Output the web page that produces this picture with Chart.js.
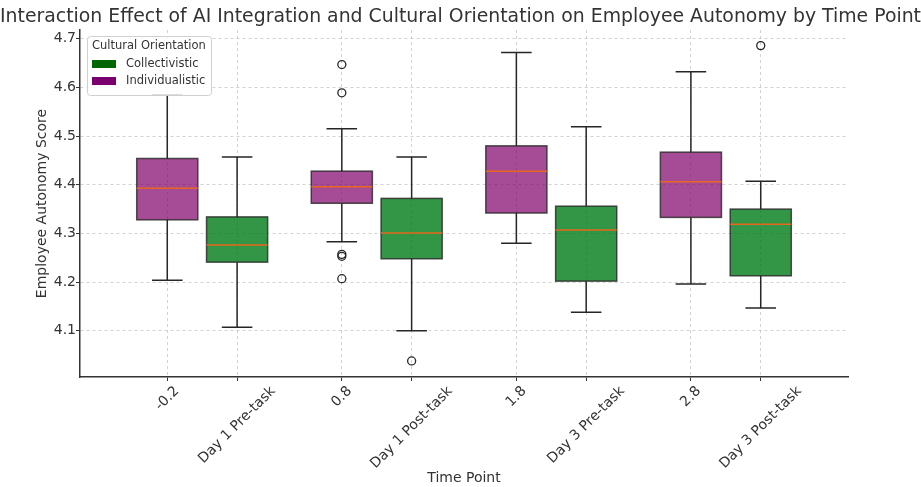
<!DOCTYPE html>
<html>
<head>
<meta charset="utf-8">
<script src="https://cdn.jsdelivr.net/npm/chart.js@4.4.1/dist/chart.umd.min.js"></script>
<style>
  html, body { margin: 0; padding: 0; background: #fff; }
  #wrap { width: 921px; height: 487px; }
</style>
</head>
<body>
<div id="wrap"><canvas id="c" width="921" height="487"></canvas></div>
<script>
// Time points shown on the x axis
const timePoints = ['Day 1 Pre-task', 'Day 1 Post-task', 'Day 3 Pre-task', 'Day 3 Post-task'];

// Individualistic box statistics per time point
const indWhiskerLow  = [4.204, 4.283, 4.280, 4.196];
const indQ1          = [4.328, 4.362, 4.342, 4.333];
const indMedian      = [4.393, 4.396, 4.428, 4.406];
const indQ3          = [4.454, 4.428, 4.480, 4.467];
const indWhiskerHigh = [4.585, 4.515, 4.672, 4.632];
const indOutliers    = [[], [4.647, 4.589, 4.257, 4.253, 4.207], [], []];

// Collectivistic box statistics per time point
const colWhiskerLow  = [4.107, 4.100, 4.138, 4.147];
const colQ1          = [4.241, 4.248, 4.202, 4.213];
const colMedian      = [4.276, 4.301, 4.307, 4.319];
const colQ3          = [4.334, 4.372, 4.356, 4.350];
const colWhiskerHigh = [4.457, 4.457, 4.519, 4.407];
const colOutliers    = [[], [4.038], [], [4.686]];

// y axis tick values
const yTickValues = [4.1, 4.2, 4.3, 4.4, 4.5, 4.6, 4.7];

const BOX_W = 0.35;
const IND_OFFSET = -0.2;
const COL_OFFSET = 0.2;
const FONT = "'DejaVu Sans', sans-serif";

const series = [
  { name: 'Individualistic', offset: IND_OFFSET, lo: indWhiskerLow, q1: indQ1, med: indMedian, q3: indQ3, hi: indWhiskerHigh,
    fill: 'rgba(128,0,106,0.70)', legend: '#7a0070' },
  { name: 'Collectivistic', offset: COL_OFFSET, lo: colWhiskerLow, q1: colQ1, med: colMedian, q3: colQ3, hi: colWhiskerHigh,
    fill: 'rgba(0,124,24,0.80)', legend: '#006400' }
];

// x tick positions: each time point has one position per group
const xTicks = [];
timePoints.forEach((t, i) => {
  xTicks.push({ value: i + IND_OFFSET, label: String(Math.round((i + IND_OFFSET) * 10) / 10) });
  xTicks.push({ value: i + COL_OFFSET, label: t });
});

const outlierPoints = (arr, offset) => arr.flatMap((vals, i) => vals.map(v => ({ x: i + offset, y: v })));

// Draws whiskers, caps, boxes and medians from the statistics above
const boxPlugin = {
  id: 'boxes',
  beforeDatasetsDraw(chart) {
    const { ctx, scales: { x, y } } = chart;
    ctx.save();
    series.forEach(s => {
      s.med.forEach((m, i) => {
        const pos = i + s.offset;
        const xl = x.getPixelForValue(pos - BOX_W / 2);
        const xr = x.getPixelForValue(pos + BOX_W / 2);
        const xc = x.getPixelForValue(pos);
        const cl = x.getPixelForValue(pos - BOX_W / 4);
        const cr = x.getPixelForValue(pos + BOX_W / 4);
        const yLo = y.getPixelForValue(s.lo[i]);
        const yQ1 = y.getPixelForValue(s.q1[i]);
        const yMed = y.getPixelForValue(m);
        const yQ3 = y.getPixelForValue(s.q3[i]);
        const yHi = y.getPixelForValue(s.hi[i]);

        ctx.strokeStyle = '#262626';
        ctx.lineWidth = 1.5;
        ctx.beginPath();
        ctx.moveTo(xc, yQ3); ctx.lineTo(xc, yHi);
        ctx.moveTo(xc, yQ1); ctx.lineTo(xc, yLo);
        ctx.moveTo(cl, yHi); ctx.lineTo(cr, yHi);
        ctx.moveTo(cl, yLo); ctx.lineTo(cr, yLo);
        ctx.stroke();

        ctx.fillStyle = s.fill;
        ctx.fillRect(xl, yQ3, xr - xl, yQ1 - yQ3);
        ctx.strokeStyle = 'rgba(38,38,38,0.8)';
        ctx.lineWidth = 1.5;
        ctx.strokeRect(xl, yQ3, xr - xl, yQ1 - yQ3);

        ctx.strokeStyle = '#e8661e';
        ctx.lineWidth = 1.5;
        ctx.beginPath();
        ctx.moveTo(xl, yMed); ctx.lineTo(xr, yMed);
        ctx.stroke();
      });
    });
    ctx.restore();
  }
};

// Rotated x tick labels, centred under their tick
const xLabelPlugin = {
  id: 'xLabels',
  afterDraw(chart) {
    const { ctx, scales: { x } } = chart;
    const size = 14;
    const c = Math.SQRT1_2;
    ctx.save();
    ctx.font = size + 'px ' + FONT;
    ctx.fillStyle = '#333';
    ctx.textAlign = 'center';
    ctx.textBaseline = 'middle';
    xTicks.forEach(t => {
      const px = x.getPixelForValue(t.value);
      const w = ctx.measureText(t.label).width;
      const boxH = (w + size) * c;
      const top = x.top + 7;
      ctx.save();
      ctx.translate(px, top + boxH / 2);
      ctx.rotate(-Math.PI / 4);
      ctx.fillText(t.label, 0, 0);
      ctx.restore();
    });
    ctx.restore();
  }
};

// Legend box in the upper-left corner of the plot area
const legendPlugin = {
  id: 'cornerLegend',
  afterDraw(chart) {
    const { ctx, chartArea } = chart;
    const left = chartArea.left + 7, top = chartArea.top + 6;
    const w = 124, h = 59;
    ctx.save();
    ctx.fillStyle = 'rgba(255,255,255,0.85)';
    ctx.strokeStyle = '#d0d0d0';
    ctx.lineWidth = 1;
    ctx.beginPath();
    ctx.roundRect(left + 0.5, top + 0.5, w, h, 3);
    ctx.fill();
    ctx.stroke();
    ctx.font = '11.5px ' + FONT;
    ctx.fillStyle = '#333';
    ctx.textBaseline = 'middle';
    ctx.textAlign = 'left';
    ctx.fillText('Cultural Orientation', left + 5, top + 10);
    const entries = [series[1], series[0]];
    entries.forEach((s, k) => {
      const cy = top + 28 + k * 17;
      ctx.fillStyle = s.legend;
      ctx.fillRect(left + 5, cy - 4, 24, 8);
      ctx.fillStyle = '#333';
      ctx.fillText(s.name, left + 39, cy);
    });
    ctx.restore();
  }
};

Chart.defaults.font.family = FONT;
Chart.defaults.color = '#333';

const gridOpts = { color: 'rgba(180,180,180,0.6)', tickColor: '#333', tickLength: 4, tickBorderDash: [], lineWidth: 1 };
const borderOpts = { display: true, color: '#333', width: 1.5, dash: [3, 3] };

new Chart(document.getElementById('c'), {
  type: 'scatter',
  data: {
    datasets: [
      { label: 'Individualistic outliers', data: outlierPoints(indOutliers, IND_OFFSET) },
      { label: 'Collectivistic outliers', data: outlierPoints(colOutliers, COL_OFFSET) }
    ].map(d => Object.assign(d, {
      pointRadius: 4, pointHoverRadius: 4, pointBorderWidth: 1.3,
      pointBorderColor: '#262626', pointBackgroundColor: 'rgba(255,255,255,0)'
    }))
  },
  options: {
    responsive: false,
    animation: false,
    events: [],
    layout: { padding: 0 },
    plugins: {
      legend: { display: false },
      tooltip: { enabled: false },
      title: {
        display: true,
        text: 'Interaction Effect of AI Integration and Cultural Orientation on Employee Autonomy by Time Point',
        font: { size: 19.1, weight: 'normal' },
        color: '#333',
        padding: { top: 5.5, bottom: 1.6 }
      }
    },
    scales: {
      x: {
        type: 'linear',
        min: -0.7, max: 3.7,
        afterBuildTicks: scale => { scale.ticks = xTicks.map(t => ({ value: t.value })); },
        afterFit: scale => { scale.height = 110; },
        ticks: { display: false },
        grid: gridOpts,
        border: borderOpts,
        title: { display: true, text: 'Time Point', font: { size: 14 }, padding: { top: 0, bottom: 0 } }
      },
      y: {
        min: 4.005, max: 4.718,
        afterBuildTicks: scale => { scale.ticks = yTickValues.map(v => ({ value: v })); },
        afterFit: scale => { scale.width = 80; },
        ticks: { font: { size: 14 }, padding: 0, callback: v => v.toFixed(1) },
        grid: gridOpts,
        border: borderOpts,
        title: { display: true, text: 'Employee Autonomy Score', font: { size: 14 }, padding: { top: 34, bottom: 0 } }
      },
      // empty right-hand margin so the plot area ends where it should
      yRight: {
        position: 'right',
        display: true,
        afterFit: scale => { scale.width = 73; },
        ticks: { display: false },
        grid: { display: false, drawTicks: false },
        border: { display: false }
      }
    }
  },
  plugins: [boxPlugin, xLabelPlugin, legendPlugin]
});
</script>
</body>
</html>
